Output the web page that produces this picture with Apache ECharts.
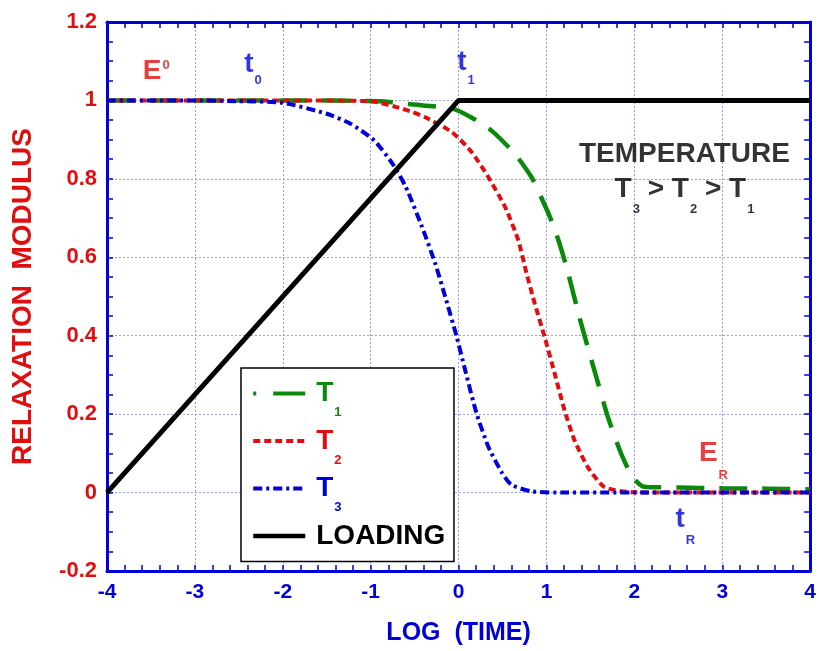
<!DOCTYPE html>
<html><head><meta charset="utf-8">
<script src="https://cdn.jsdelivr.net/npm/echarts@6/dist/echarts.min.js"></script>
<style>html,body{margin:0;padding:0;background:#fff}#c{width:819px;height:651px}</style>
</head><body><div id="c"></div>
<script>
// ---- data ----
const t1X = [-4, -2, -0.9, -0.53, -0.075, 0.15, 0.375, 0.64, 0.83, 0.94, 1.055, 1.15, 1.24, 1.395, 1.546, 1.70, 1.85, 1.98, 2.11, 2.5, 3, 3.5, 4];
const t1Y = [1, 1, 0.998, 0.99, 0.979, 0.956, 0.923, 0.864, 0.804, 0.753, 0.694, 0.634, 0.565, 0.43, 0.311, 0.192, 0.099, 0.039, 0.015, 0.013, 0.011, 0.01, 0.008];
const t2X = [-4, -2, -1, -0.6, -0.38, -0.075, 0.15, 0.34, 0.53, 0.68, 0.77, 0.868, 0.98, 1.094, 1.207, 1.32, 1.47, 1.66, 1.96, 2.5, 3, 4];
const t2Y = [1, 1, 0.998, 0.976, 0.957, 0.919, 0.868, 0.804, 0.728, 0.643, 0.562, 0.481, 0.396, 0.303, 0.209, 0.133, 0.065, 0.014, 0.001, 0, 0, 0];
const t3X = [-4, -3, -2.5, -2, -1.5, -1.225, -0.96, -0.75, -0.6, -0.415, -0.264, -0.15, -0.02, 0.076, 0.207, 0.34, 0.49, 0.6, 0.83, 1.2, 2, 3, 4];
const t3Y = [1, 1, 0.998, 0.994, 0.966, 0.94, 0.898, 0.838, 0.779, 0.677, 0.583, 0.498, 0.396, 0.311, 0.2, 0.116, 0.052, 0.02, 0.003, 0, 0, 0, 0];
const loadX = [-4, 0, 4];
const loadY = [0, 1, 1];
const seriesNames = ['T1', 'T2', 'T3', 'LOADING'];
const xTicks = [-4, -3, -2, -1, 0, 1, 2, 3, 4];
const yTicks = [-0.2, 0, 0.2, 0.4, 0.6, 0.8, 1, 1.2];
// annotations: main text, sub/superscript, kind, position in data units
const annMain = ['E', 't', 't', 'E', 't'];
const annSub  = ['0', '0', '1', 'R', 'R'];
const annKind = ['sup', 'sub', 'sub', 'sub', 'sub'];
const annX = [-3.44, -2.34, 0.085, 2.90, 2.58];
const annY = [1.075, 1.093, 1.098, 0.0995, -0.068];
const tempTitle = 'TEMPERATURE';
const tempX = [2.57, 2.57];
const tempY = [0.862, 0.773];

// ---- styles ----
const RED = '#e00f0f', BLUE = '#0000d8', GREEN = '#0a8a0a', BLACK = '#000';
const FF = 'Liberation Sans, Arial, sans-serif';
const zip = (xs, ys) => xs.map((x, i) => [x, ys[i]]);

function main(col, size) { return {color: col, fontSize: size, fontWeight: 'bold', fontFamily: FF, lineHeight: size}; }
function sub(col, size, off) {
  return off >= 0
    ? {color: col, fontSize: size, fontWeight: 'bold', fontFamily: FF, lineHeight: 1, padding: [2 * off, 0, 0, 1]}
    : {color: col, fontSize: size, fontWeight: 'bold', fontFamily: FF, lineHeight: 1, padding: [0, 0, -2 * off, 1]};
}
const annRich = {
  Em: main(RED, 28), Esup: sub(RED, 13, -5.5), Esub: sub(RED, 13, 22),
  tm: main(BLUE, 28), t0: sub(BLUE, 13, 16.5), t1: sub(BLUE, 13, 18.5), tR: sub(BLUE, 13, 21.5),
  K: main(BLACK, 28), Ks: sub(BLACK, 13, 20)
};
function annFormat(i) {
  const m = annMain[i], s = annSub[i];
  if (m === 'E') return '{Em|E}' + (annKind[i] === 'sup' ? '{Esup|' + s + '}' : '{Esub|' + s + '}');
  const st = s === '0' ? 't0' : (s === '1' ? 't1' : 'tR');
  return '{tm|t}{' + st + '|' + s + '}';
}
const annData = annMain.map((m, i) => ({value: [annX[i], annY[i]], label: {formatter: annFormat(i)}}));
annData.push({value: [tempX[0], tempY[0]], label: {formatter: '{K|' + tempTitle + '}'}});
annData.push({value: [tempX[1], tempY[1]], label: {formatter: '{K|T}{Ks|3}{K| > T}{Ks|2}{K| > T}{Ks|1}'}});

const legendRich = {
  g: Object.assign(main(GREEN, 28), {padding: [0, 0, 0, 6]}), gs: sub(GREEN, 13, 19),
  r: Object.assign(main(RED, 28), {padding: [0, 0, 0, 6]}), rs: sub(RED, 13, 19),
  b: Object.assign(main(BLUE, 28), {padding: [0, 0, 0, 6]}), bs: sub(BLUE, 13, 19),
  k: Object.assign(main(BLACK, 28), {padding: [0, 0, 0, 6]}), ks: sub(BLACK, 13, 19)
};
function legendFmt(name) {
  if (name === 'T1') return '{g|T}{gs|1}';
  if (name === 'T2') return '{r|T}{rs|2}';
  if (name === 'T3') return '{b|T}{bs|3}';
  return '{k|' + name + '}{ks| }';
}
const legendLine = {
  T1: {width: 4, type: [3, 17, 32, 60]},
  T2: {width: 4, type: [7, 4]},
  T3: {width: 4, type: [9, 4, 3, 4]},
  LOADING: {width: 4.5, type: 'solid'}
};

const axisCommon = {
  type: 'value',
  axisLine: {show: true, onZero: false, lineStyle: {color: BLUE, width: 3}},
  axisTick: {show: true, inside: true, length: 6, lineStyle: {color: BLUE, width: 1.5}},
  minorTick: {show: true, length: 6, lineStyle: {color: BLUE, width: 1.5}},
};
const gridLine = {show: true, lineStyle: {color: '#9a9af2', width: 1, type: [2, 2]}};

const chart = echarts.init(document.getElementById('c'), null, {renderer: 'canvas'});
chart.setOption({
  animation: false,
  backgroundColor: '#fff',
  grid: {left: 107, right: 5, top: 22, bottom: 80, containLabel: false},
  xAxis: [
    Object.assign({}, axisCommon, {
      min: -4, max: 4, interval: 1, position: 'bottom',
      minorTick: Object.assign({}, axisCommon.minorTick, {splitNumber: 5}),
      splitLine: gridLine,
      axisLabel: {color: BLUE, fontSize: 21, fontWeight: 'bold', fontFamily: FF, margin: 11,
        formatter: v => xTicks.includes(v) ? String(v) : ''},
      name: 'LOG  (TIME)', nameLocation: 'middle', nameGap: 50,
      nameTextStyle: {color: BLUE, fontSize: 25, fontWeight: 'bold', fontFamily: FF}
    }),
    Object.assign({}, axisCommon, {
      min: -4, max: 4, interval: 1, position: 'top',
      minorTick: Object.assign({}, axisCommon.minorTick, {splitNumber: 5}),
      splitLine: {show: false}, axisLabel: {show: false}
    })
  ],
  yAxis: [
    Object.assign({}, axisCommon, {
      min: -0.2, max: 1.2, interval: 0.2, position: 'left',
      minorTick: Object.assign({}, axisCommon.minorTick, {splitNumber: 4}),
      splitLine: gridLine,
      axisLabel: {color: RED, fontSize: 22, fontWeight: 'bold', fontFamily: FF, margin: 10,
        formatter: v => { const r = Math.round(v * 10) / 10; return yTicks.some(t => Math.abs(t - r) < 1e-9) ? String(r) : ''; }},
      name: 'RELAXATION  MODULUS', nameLocation: 'middle', nameGap: 70,
      nameTextStyle: {color: RED, fontSize: 28, fontWeight: 'bold', fontFamily: FF}
    }),
    Object.assign({}, axisCommon, {
      min: -0.2, max: 1.2, interval: 0.2, position: 'right',
      minorTick: Object.assign({}, axisCommon.minorTick, {splitNumber: 4}),
      splitLine: {show: false}, axisLabel: {show: false}
    })
  ],
  legend: {
    data: seriesNames.map(n => ({name: n, lineStyle: legendLine[n]})),
    orient: 'vertical', left: 241, top: 368,
    padding: [0, 4, 0, 10], itemGap: -3.5, itemWidth: 52, itemHeight: 14,
    itemStyle: {opacity: 0, borderWidth: 0},
    borderColor: '#000', borderWidth: 1.5, backgroundColor: '#fff', borderRadius: 0,
    formatter: legendFmt, textStyle: {rich: legendRich}, selectedMode: false
  },
  series: [
    {name: 'T1', type: 'line', data: zip(t1X, t1Y), smooth: 0.2, symbol: 'none',
     lineStyle: {color: GREEN, width: 4.5, type: [28, 15]}, itemStyle: {color: GREEN}, z: 3},
    {name: 'T2', type: 'line', data: zip(t2X, t2Y), smooth: 0.2, symbol: 'none',
     lineStyle: {color: RED, width: 4, type: [7, 4]}, itemStyle: {color: RED}, z: 4},
    {name: 'T3', type: 'line', data: zip(t3X, t3Y), smooth: 0.2, symbol: 'none',
     lineStyle: {color: BLUE, width: 4, type: [9, 4, 3, 4]}, itemStyle: {color: BLUE}, z: 5},
    {name: 'LOADING', type: 'line', data: zip(loadX, loadY), symbol: 'none',
     lineStyle: {color: BLACK, width: 5}, itemStyle: {color: BLACK}, z: 6},
    {name: 'annotations', type: 'scatter', data: annData, symbolSize: 1, silent: true,
     itemStyle: {color: 'rgba(0,0,0,0)'}, z: 7,
     label: {show: true, position: 'inside', rich: annRich}}
  ]
});
</script></body></html>
